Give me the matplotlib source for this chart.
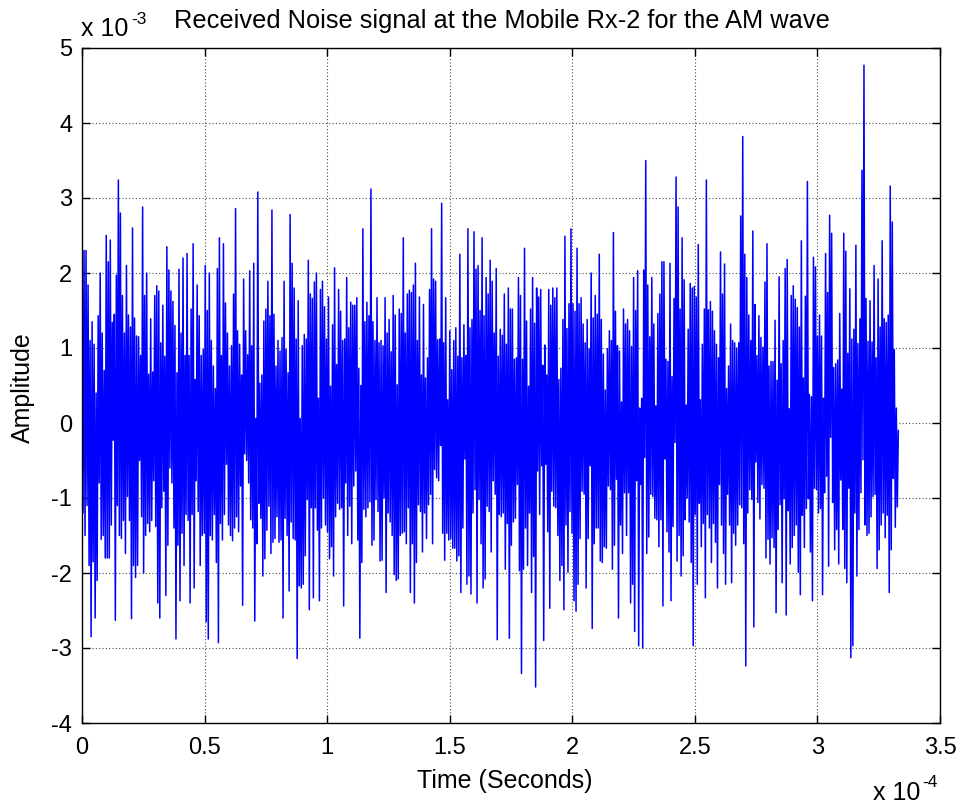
import numpy as np
import matplotlib
matplotlib.use("Agg")
import matplotlib.pyplot as plt
from matplotlib.ticker import FuncFormatter

plt.rcParams['font.family'] = ['Liberation Sans', 'DejaVu Sans']

# amplitude readings in units of 1e-3, left to right
seg_a = [1.4, -1.2, 2.3, -1.5, 2.3, -1.1,
         1.84, -1.9, 1.1, -2.85, 1.35, -1.85, 1.05, -2.6, 0.4, -2.1,
         1.43, -0.8, 2.0, -1.55, 1.2, -1.5, 0.7, -1.8, 2.5,
         -1.8, 2.15, -1.8, 2.44, -1.36, 1.34, -0.23, 1.45, -2.63, 1.97,
         -1.1, 3.24, -1.5, 2.8, -1.54, 1.7, -1.3, 1.2, -1.74, 2.1,
         -0.98, 1.44, -1.3, 1.28, -2.61, 2.6, -1.9, 1.4, -2.06, 1.16,
         -1.9, 1.15, -0.5, 0.9, -1.25, 2.88, -2.0, 1.7, -1.5, 2.0,
         -1.34, 0.65, -1.45, 1.39, -1.3, 0.68, -0.77, 1.7, -1.38, 1.83,
         -2.4, 1.76, -2.6, 1.07, -1.13, 1.57, -0.91, 0.89, -2.3, 2.35,
         -1.63, 2.04, -0.6, 1.76, -0.8, 1.62, -1.4, 1.3, -2.88,
         0.67, -1.63, 2.05, -2.37, 1.2, -1.47, 2.2, -1.9, 0.9, -1.22,
         2.26, -1.3, 0.9, -2.4, 1.52, -1.22, 2.39, -2.2, 0.58, -0.77,
         1.84, -1.18, 1.43, -1.9, 0.9, -1.5, 0.98, -1.47, 2.1, -2.65,
         1.5, -2.88, 2.0, -1.5, 1.1, -1.56]
seg_b = [0.76, -1.22, 0.46, -1.86, 2.06, -2.93, 2.47,
         -1.34, 0.9, -1.56, 2.39, -1.22, 1.6, -0.55, 1.2, -1.36, 0.76,
         -1.5, 1.03, -1.57, 1.72, -1.4, 2.86, -1.25, 1.23, -1.45, 1.05,
         -0.84, 0.64, -2.43, 1.92, -0.41, 1.23, -0.5, 0.91, -0.8, 2.03,
         -1.29, 1.03, -1.4, 2.13, -2.64, 0.06, -1.61, 3.08, -1.07, 0.53,
         -1.27, 0.64, -2.04, 1.36, -1.81, 1.52, -1.43, 1.89, -1.11, 1.43,
         -1.74, 2.84, -1.59, 1.45, -1.54, 0.76, -1.25, 1.1, -1.59, 0.96,
         -1.56, 1.14, -2.6, 1.89, -1.27, 0.98, -1.5, 0.67, -2.24, 2.78,
         -1.32, 2.13, -1.54, 1.8, -1.56, 1.12, -3.14, 1.63, -2.17,
         0.06, -2.2, 1.03, -2.15, 1.18, -1.77, 1.12, -1.02, 2.17, -2.49,
         1.72, -1.13, 1.66, -2.33, 1.88, -1.13, 2.0, -1.43, 0.33, -2.37,
         1.78, -1.4, 1.89, -1.0, 1.55, -1.36, 1.12, -1.45, 1.68, -1.81,
         0.49, -1.65, 1.31, -2.04, 2.07, -1.25, 0.78, -1.07, 1.78, -1.15,
         1.49, -1.13, 1.1, -2.44]
seg_c = [1.12, -0.8, 1.94, -1.5,
         1.27, -1.11, 1.61, -1.61, 1.57, -0.84,
         1.57, -0.64, 1.67, -1.56, 0.73, -2.87, 0.5, -1.86, 2.59, -1.15,
         1.35, -1.25, 1.61, -1.13, 1.43, -1.05, 3.12, -1.63, 1.35, -1.56,
         1.1, -1.02, 1.67, -1.18, 1.07, -1.84, 1.1, -1.83, 1.03, -1.0, 1.67, -2.26,
         1.2, -1.2, 1.38, -1.32, 0.95, -1.5, 1.7, -2.02, 1.44, -2.1,
         0.51, -2.08, 1.52, -1.5, 1.46, -1.47, 2.47, -1.45, 1.2, -1.61,
         1.72, -1.13, 1.77, -2.26, 1.74, -1.61, 1.84, -2.4, 2.13, -1.86,
         1.1, -1.09, 1.68, -1.18, 0.64, -1.72, 1.58, -1.2, 0.6, -1.54,
         0.87, -1.09, 1.78, -0.95, 2.59, -1.61, 1.92, -0.62, 1.89, -0.73,
         1.11, -0.77, 1.12, -0.3, 2.93, -1.47, 1.07, -1.83, 1.67, -1.47,
         0.31, -1.56, 1.23, -1.54, 0.71, -1.67, 1.1, -1.67, 1.27, -1.84,
         0.89, -1.77, 2.25, -2.26, 0.87, -1.4, 1.31, -0.48, 0.9, -2.15,
         2.59, -2.04, 1.27, -2.28, 1.38, -1.2, 2.55, -0.89, 2.05, -2.4,
         2.1, -1.02, 1.5, -1.61, 2.47]
seg_d = [-2.2, 1.43, -2.08, 1.94, -1.11, 1.72, -1.18, 2.17, -1.72, 1.89,
         -0.77, 1.2, -0.95, 2.06, -2.89, 0.89, -1.22, 1.25, -1.25, 1.17,
         -1.2, 1.72, -1.95, 1.05, -1.34, 1.8, -2.87, 1.52, -1.63, 1.52,
         -1.32, 0.85, -1.27, 0.87, -0.82, 1.94, -1.97, 1.7, -3.34, 0.85,
         -1.95, 2.33, -1.4, 1.36, -1.9, 0.49, -1.2, 1.52, -2.26, 1.94,
         -1.78, 1.33, -3.52, 1.8, -0.64, 1.68, -1.22, 1.78, -0.57, 0.77,
         -2.9, 1.04, -0.55, 0.64, -1.45, 1.78, -2.47, 1.57, -0.91, 1.8,
         -1.11, 1.67, -1.13, 1.8, -1.5, 0.58, -2.1, 0.73, -1.9, 1.38,
         -2.49, 2.49, -1.36, 1.26, -1.99, 1.59, -1.18, 2.59, -1.47, 1.59,
         -2.37, 1.49, -2.51, 2.33, -2.15, 1.59, -1.54, 1.67, -0.91, 1.32,
         -0.95, 1.07, -2.2, 1.38, -1.54, 0.99, -0.57, 2.0, -2.74, 1.4,
         -1.61, 1.7, -1.4, 1.45, -1.4, 2.25, -1.84, 1.38, -1.86, 0.92,
         -1.65, 0.44, -1.67, 0.99, -0.84, 1.23, -0.89, 1.1, -1.95, 2.54,
         -1.63, 1.49, -0.75, 1.03]
seg_e = [-2.6, 0.96, -1.36, 0.28, -1.74, 1.52, -0.93, 1.32, -1.5, 1.38,
         -0.93, 1.23, -2.4, 1.02, -2.15, 1.94, -2.78, 1.5, -0.77, 2.03,
         -2.97, 0.2, -0.82, 0.33, -3.0, 2.04, -0.46, 3.5, -1.74, 1.84,
         -1.52, 1.15, -0.95, 1.94, -0.98, 1.32, -1.27, 0.23, -1.29, 1.46,
         -1.65, 1.72, -1.29, 2.15, -2.44, 2.15, -0.48, 0.85, -1.45, 0.82,
         -1.72, 2.13, -2.37, 0.62, -1.38, 1.66, -0.26, 3.28, -1.84, 2.88,
         -1.5, 1.52, -2.04, 2.47, -1.77, 1.91, -1.29, 0.24, -1.0, 1.25,
         -1.32, 1.86, -1.86, 1.8, -2.97, 1.82, -1.22, 1.68, -2.15, 2.38,
         -1.07, 0.31, -1.65, 1.05, -1.34, 1.52, -2.33, 3.24, -1.22, 1.51,
         -1.4, 1.62, -1.86, 1.49, -1.34, 1.23, -1.59, 1.05, -2.2, 0.87,
         -0.82, 2.28, -1.36, 1.72, -1.74, 2.12, -2.15, 0.46, -0.95, 0.76,
         -1.36, 1.32, -2.13, 1.1, -1.47, 1.07, -1.63, 1.0, -1.36, 1.07,
         -1.09, 2.76, -1.13, 3.82, -1.61, 2.25, -3.24, 1.94, -1.2,
         1.44, -0.89, 1.1, -1.02, 2.56]
seg_f = [-2.72, 1.58, -0.52, 0.9, -1.06, 1.43, -1.28, 1.14, -0.82,
         1.01, -0.87, 1.88, -1.8, 2.39, -1.55, 0.76, -1.88, 0.82, -1.53,
         0.82, -1.66, 1.37, -2.53, 0.57, -1.42, 1.95, -1.09, 0.79, -2.13, 1.1, -1.01,
         2.06, -2.56, 2.18, -1.17, 0.19, -1.88, 1.7, -1.66, 1.83, -1.5,
         1.65, -1.36, 1.54, -1.99, 1.28, -2.29, 2.43, -1.23, 0.6, -1.66,
         1.69, -1.14, 3.22, -1.01, 0.38, -1.72, 0.35, -2.37, 2.21, -0.87,
         2.08, -0.89, 1.16, -1.2, 1.44, -1.14, 1.16, -2.29, 0.33, -0.93, 2.26,
         -0.71, 1.74, -1.91, 2.77, -0.19, 2.53, -1.06, 0.74, -1.69,
         0.79, -1.42, 0.84, -1.88, 1.46, -0.76, 0.45, -1.42, 2.53, -1.94,
         2.29, -2.13, 0.93, -0.87, 1.79, -3.13, 1.12, -2.97, 1.25, -1.2, 2.37, -2.04,
         1.06, -1.42, 1.39, -0.93, 3.37, -0.49, 4.77, -1.36, 1.66, -1.5,
         1.09, -1.47, 1.63, -1.25, 1.08, -0.98, 2.1, -0.95, 0.87, -1.94,
         1.92, -1.69, 1.28, -1.36, 2.43, -1.2, 1.39, -1.53, 1.34, -1.23,
         1.44, -2.26, 3.16, -1.69, 2.68, -0.74, 0.98, -1.39, 0.2, -1.12, -0.1]

t_end = 3.33e-4
amp = np.array(seg_a + seg_b + seg_c + seg_d + seg_e + seg_f) * 1e-3
t = np.linspace(0, t_end, len(amp))

xticks = [0, 0.5, 1, 1.5, 2, 2.5, 3, 3.5]
yticks = [-4, -3, -2, -1, 0, 1, 2, 3, 4, 5]

W, H = 960, 808
fig = plt.figure(figsize=(9.6, 8.08), dpi=100)
ax = fig.add_axes([82/W, 85/H, 858/W, 675/H])
ax.plot(t, amp, color='#0000ff', linewidth=1.1)

ax.set_xlim(0, 3.5e-4)
ax.set_ylim(-4e-3, 5e-3)
ax.set_xticks([v * 1e-4 for v in xticks])
ax.set_yticks([v * 1e-3 for v in yticks])
ax.xaxis.set_major_formatter(FuncFormatter(lambda v, p: '%g' % round(v * 1e4, 3)))
ax.yaxis.set_major_formatter(FuncFormatter(lambda v, p: '%g' % round(v * 1e3, 3)))
ax.tick_params(direction='in', top=True, right=True, length=6, width=1,
               labelsize=17)
ax.tick_params(axis='x', pad=10)
ax.tick_params(axis='y', pad=7)
for s in ax.spines.values():
    s.set_linewidth(1.0)
ax.grid(True, color='0.3', linestyle=(0, (1, 2)), linewidth=0.8)

fig.text(502/W, 1 - 28/H, 'Received Noise signal at the Mobile Rx-2 for the AM wave',
         ha='center', va='baseline', fontsize=18.3)
fig.text(505/W, 1 - 788/H, 'Time (Seconds)', ha='center', va='baseline', fontsize=18)
fig.text(23/W, 1 - 388/H, 'Amplitude', ha='center', va='center',
         rotation=90, fontsize=18)

# axis multipliers
fig.text(81/W, 1 - 36/H, 'x 10', fontsize=18, va='baseline')
fig.text(131/W, 1 - 24/H, '-3', fontsize=12.5, va='baseline')
fig.text(873/W, 1 - 800/H, 'x 10', fontsize=18, va='baseline')
fig.text(922/W, 1 - 787/H, '-4', fontsize=12.5, va='baseline')

fig.savefig('out.png', dpi=100)
